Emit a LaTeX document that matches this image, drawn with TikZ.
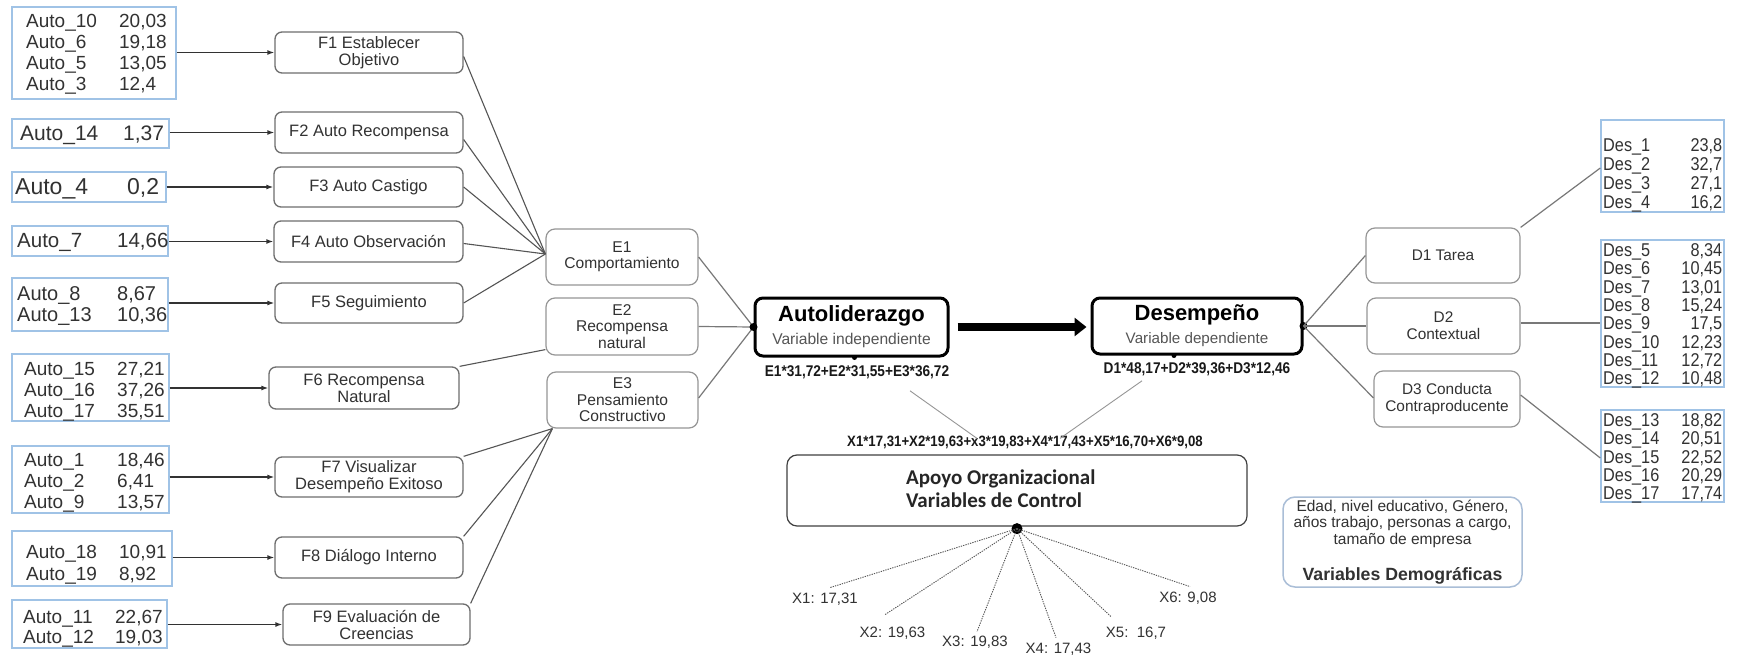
\documentclass[tikz,border=0pt]{standalone}
\usepackage{fontspec}
\setmainfont{Liberation Sans}
\newfontfamily\narrowfont[FakeStretch=0.88]{Liberation Sans}
\newfontfamily\calfont{Carlito}
\usetikzlibrary{arrows.meta}

\definecolor{bluec}{RGB}{160,195,230}
\definecolor{fgray}{RGB}{110,110,110}
\definecolor{egray}{RGB}{150,150,150}
\definecolor{ftext}{RGB}{50,50,50}
\definecolor{vtext}{RGB}{85,85,85}
\definecolor{demob}{RGB}{170,190,215}
\definecolor{arrgray}{RGB}{50,50,50}
\definecolor{linegray}{RGB}{85,85,85}
\definecolor{softgray}{RGB}{120,120,120}
\definecolor{faintgray}{RGB}{150,150,150}

\newcommand{\fs}[2]{\fontsize{#1}{#2}\selectfont}
% one row of an indicator table: name in a fixed-width column, then the value
\newcommand{\arow}[3]{\makebox[#1][l]{#2}#3}
% one row of a performance table: name left, value flush right
\newcommand{\drow}[2]{\makebox[119pt]{#1\hfill#2}}

\begin{document}
\begin{tikzpicture}[x=1pt,y=-1pt,
  bluebox/.style={draw=bluec, line width=1.4pt, rectangle, inner sep=0pt},
  tabtext/.style={anchor=west, align=left, inner sep=0pt, text=ftext},
  fbox/.style={draw=fgray, line width=1.3pt, rounded corners=7pt, align=center,
    inner sep=0pt, text=ftext, font=\fs{16.5}{17}},
  ebox/.style={draw=egray, line width=1.2pt, rounded corners=9pt, align=center,
    inner sep=0pt, text=ftext, font=\fs{15.6}{16.5}},
  dbox/.style={draw=egray, line width=1.2pt, rounded corners=9pt, align=center,
    inner sep=0pt, text=ftext, font=\fs{15.4}{17}},
  mainbox/.style={draw=black, line width=3pt, rounded corners=8pt, align=center,
    inner sep=0pt, font=\fs{16}{23}},
  formula/.style={inner sep=0pt, text=black!90, font=\narrowfont\bfseries\fs{15.5}{16}},
  xlabel/.style={inner sep=0pt, text=ftext, font=\fs{15}{15}},
  apoyobox/.style={draw=black!75, line width=1.2pt, rounded corners=10pt, inner sep=0pt},
  demobox/.style={draw=demob, line width=1.5pt, rounded corners=12pt, align=center,
    inner sep=0pt, text=ftext, font=\fs{15.5}{16.5}},
  feed/.style={draw=arrgray, line width=1.3pt, -{Latex[length=7pt,width=5pt]}},
  fline/.style={draw=linegray, line width=1.1pt},
  eline/.style={draw=softgray, line width=1.2pt},
  link/.style={draw=faintgray, line width=0.9pt},
  dotline/.style={draw=linegray, line width=0.9pt, dash pattern=on 1.3pt off 1.1pt},
]
\fill[white] (0,0) rectangle (1737,658);
\useasboundingbox (0,0) rectangle (1737,658);

% ---------- self-leadership indicators ----------
\node[bluebox, minimum width=164pt, minimum height=92pt] (a1) at (94,53) {};
\node[tabtext, font=\fs{19}{21}] (a1t) at (26,54.5)
  {\arow{93pt}{Auto\_10}{20,03}\\\arow{93pt}{Auto\_6}{19,18}\\
   \arow{93pt}{Auto\_5}{13,05}\\\arow{93pt}{Auto\_3}{12,4}};
\node[bluebox, minimum width=157pt, minimum height=29pt] (a2) at (90.5,133.5) {};
\node[tabtext, font=\fs{21}{23}] (a2t) at (20,135) {\arow{103pt}{Auto\_14}{1,37}};
\node[bluebox, minimum width=154pt, minimum height=30pt] (a3) at (89,187) {};
\node[tabtext, font=\fs{23}{25}] (a3t) at (15,188.5) {\arow{112pt}{Auto\_4}{0,2}};
\node[bluebox, minimum width=156pt, minimum height=30pt] (a4) at (90,241) {};
\node[tabtext, font=\fs{20.5}{22}] (a4t) at (17,242.5) {\arow{100pt}{Auto\_7}{14,66}};
\node[bluebox, minimum width=156pt, minimum height=53pt] (a5) at (90,304.5) {};
\node[tabtext, font=\fs{20}{21}] (a5t) at (17,306)
  {\arow{100pt}{Auto\_8}{8,67}\\\arow{100pt}{Auto\_13}{10,36}};
\node[bluebox, minimum width=157pt, minimum height=67pt] (a6) at (90.5,387.5) {};
\node[tabtext, font=\fs{19}{21}] (a6t) at (24,391.5)
  {\arow{93pt}{Auto\_15}{27,21}\\\arow{93pt}{Auto\_16}{37,26}\\\arow{93pt}{Auto\_17}{35,51}};
\node[bluebox, minimum width=157pt, minimum height=67pt] (a7) at (90.5,479.5) {};
\node[tabtext, font=\fs{19}{21}] (a7t) at (24,483)
  {\arow{93pt}{Auto\_1}{18,46}\\\arow{93pt}{Auto\_2}{6,41}\\\arow{93pt}{Auto\_9}{13,57}};
\node[bluebox, minimum width=160pt, minimum height=55pt] (a8) at (92,558.5) {};
\node[tabtext, font=\fs{19}{22}] (a8t) at (26,565)
  {\arow{93pt}{Auto\_18}{10,91}\\\arow{93pt}{Auto\_19}{8,92}};
\node[bluebox, minimum width=155pt, minimum height=48pt] (a9) at (89.5,624) {};
\node[tabtext, font=\fs{19}{20}] (a9t) at (23,628.5)
  {\arow{92pt}{Auto\_11}{22,67}\\\arow{92pt}{Auto\_12}{19,03}};

% ---------- factors ----------
\node[fbox, minimum width=188pt, minimum height=41pt] (f1) at (369,52.5) {F1 Establecer\\Objetivo};
\node[fbox, minimum width=188pt, minimum height=41pt] (f2) at (369,132.5) {F2 Auto Recompensa};
\node[fbox, minimum width=189pt, minimum height=40pt] (f3) at (368.5,187) {F3 Auto Castigo};
\node[fbox, minimum width=189pt, minimum height=41pt] (f4) at (368.5,241.5) {F4 Auto Observación};
\node[fbox, minimum width=188pt, minimum height=40pt] (f5) at (369,303) {F5 Seguimiento};
\node[fbox, minimum width=190pt, minimum height=42pt] (f6) at (364,388) {F6 Recompensa\\Natural};
\node[fbox, minimum width=188pt, minimum height=40pt] (f7) at (369,477) {F7 Visualizar\\Desempeño Exitoso};
\node[fbox, minimum width=188pt, minimum height=41pt] (f8) at (369,557.5) {F8 Diálogo Interno};
\node[fbox, minimum width=187pt, minimum height=41pt] (f9) at (376.5,624.5) {F9 Evaluación de\\Creencias};

\foreach \i in {1,...,9}
  \draw[feed] (a\i.east |- f\i.west) -- (f\i.west);

% ---------- strategies ----------
\node[ebox, minimum width=152pt, minimum height=56pt] (e1) at (622,257) {E1\\Comportamiento};
\node[ebox, minimum width=152pt, minimum height=57pt] (e2) at (622,326.5) {E2\\Recompensa\\natural};
\node[ebox, minimum width=151pt, minimum height=56pt] (e3) at (622.5,400) {E3\\Pensamiento\\Constructivo};

\draw[fline] ([yshift=-4pt]f1.east) -- ([yshift=3pt]e1.west);
\draw[fline] ([yshift=-7pt]f2.east) -- ([yshift=3pt]e1.west);
\draw[fline] (f3.east) -- ([yshift=3pt]e1.west);
\draw[fline] ([yshift=-2pt]f4.east) -- ([yshift=3pt]e1.west);
\draw[fline] (f5.east) -- ([yshift=3pt]e1.west);
\draw[fline] (f6.north east) -- ([yshift=6pt]e2.south west);
\draw[fline] (f7.north east) -- ([xshift=6pt]e3.south west);
\draw[fline] (f8.north east) -- ([xshift=6pt]e3.south west);
\draw[fline] (f9.north east) -- ([xshift=6pt]e3.south west);

% ---------- main constructs ----------
\node[mainbox, minimum width=193pt, minimum height=58pt] (auto) at (851.5,327)
  {{\fs{22}{23}\bfseries Autoliderazgo}\\{\fs{15.6}{16}\color{vtext}Variable independiente}};
\node[mainbox, minimum width=210pt, minimum height=56pt] (desemp) at (1197,326)
  {{\fs{22}{23}\bfseries Desempeño}\\{\fs{15.2}{16}\color{vtext}Variable dependiente}};

\draw[eline] (e1.east) -- (auto.west);
\draw[eline] (e2.east) -- (auto.west);
\draw[eline] ([yshift=2pt]e3.east) -- (auto.west);

\fill (auto.west) circle (4pt);
\fill ([xshift=3pt]auto.south) circle (2.5pt);
\fill (desemp.east) circle (4pt);
\fill ([xshift=-23pt]desemp.south) circle (2.5pt);

\draw[line width=7.5pt, -{Triangle[length=12pt,width=18pt]}]
  ([xshift=8pt]auto.east) -- ([xshift=-4pt]auto.east -| desemp.west);

\node[formula] (efor) at (857,372) {E1*31,72+E2*31,55+E3*36,72};
\node[formula] (dfor) at (1197,369) {D1*48,17+D2*39,36+D3*12,46};
\node[formula, font=\narrowfont\bfseries\fs{15}{16}] (xfor) at (1025,442)
  {X1*17,31+X2*19,63+x3*19,83+X4*17,43+X5*16,70+X6*9,08};

\draw[link] ([xshift=53pt,yshift=-12pt]efor.south) -- ([xshift=-48pt,yshift=-3pt]xfor.north);
\draw[link] ([xshift=-55pt,yshift=-5pt]dfor.south) -- ([xshift=35pt,yshift=-3pt]xfor.north);

% ---------- control variables ----------
\node[apoyobox, minimum width=460pt, minimum height=71pt] (apoyo) at (1017,490.5) {};
\node[anchor=west, align=left, inner sep=0pt, text=black!85, font=\calfont\bfseries\fs{21}{23}]
  (apoyot) at (906,489) {Apoyo Organizacional\\Variables de Control};
\fill ([yshift=-2pt]apoyo.south) circle (5.5pt);

\node[xlabel] (x1) at (825,599) {X1: 17,31};
\node[xlabel] (x2) at (892.5,633) {X2: 19,63};
\node[xlabel] (x3) at (975,642) {X3: 19,83};
\node[xlabel] (x4) at (1058.5,649) {X4: 17,43};
\node[xlabel] (x5) at (1136,633) {X5:\ \ 16,7};
\node[xlabel] (x6) at (1188,598) {X6: 9,08};

\draw[dotline] ([yshift=-2pt]apoyo.south) -- ([xshift=5pt,yshift=5pt]x1.north);
\draw[dotline] ([yshift=-2pt]apoyo.south) -- ([xshift=-7.5pt,yshift=12pt]x2.north);
\draw[dotline] ([yshift=-2pt]apoyo.south) -- ([xshift=2pt,yshift=4pt]x3.north);
\draw[dotline] ([yshift=-2pt]apoyo.south) -- ([xshift=-2.5pt,yshift=5pt]x4.north);
\draw[dotline] ([yshift=-2pt]apoyo.south) -- ([xshift=-25pt,yshift=10pt]x5.north);
\draw[dotline] ([yshift=-2pt]apoyo.south) -- ([xshift=2pt,yshift=5pt]x6.north);

% ---------- performance dimensions ----------
\node[dbox, minimum width=154pt, minimum height=55pt] (d1) at (1443,255.5) {D1 Tarea};
\node[dbox, minimum width=153pt, minimum height=56pt] (d2) at (1443.5,326) {D2\\Contextual};
\node[dbox, minimum width=146pt, minimum height=56pt] (d3) at (1447,399) {D3 Conducta\\Contraproducente};

\draw[eline] (desemp.east) -- (d1.west);
\draw[eline] (desemp.east) -- (d2.west);
\draw[eline] (desemp.east) -- ([yshift=1pt]d3.west);

\node[bluebox, minimum width=123pt, minimum height=92pt] (ds1) at (1662.5,166) {};
\node[tabtext, font=\narrowfont\fs{18.5}{19}] (ds1t) at (1603,175.5)
  {\drow{Des\_1}{23,8}\\\drow{Des\_2}{32,7}\\\drow{Des\_3}{27,1}\\\drow{Des\_4}{16,2}};
\node[bluebox, minimum width=123pt, minimum height=147pt] (ds2) at (1662.5,313.5) {};
\node[tabtext, font=\narrowfont\fs{18.5}{18.3}] (ds2t) at (1603,316)
  {\drow{Des\_5}{8,34}\\\drow{Des\_6}{10,45}\\\drow{Des\_7}{13,01}\\\drow{Des\_8}{15,24}\\
   \drow{Des\_9}{17,5}\\\drow{Des\_10}{12,23}\\\drow{Des\_11}{12,72}\\\drow{Des\_12}{10,48}};
\node[bluebox, minimum width=123pt, minimum height=92pt] (ds3) at (1662.5,456) {};
\node[tabtext, font=\narrowfont\fs{18.5}{18.25}] (ds3t) at (1603,458.5)
  {\drow{Des\_13}{18,82}\\\drow{Des\_14}{20,51}\\\drow{Des\_15}{22,52}\\\drow{Des\_16}{20,29}\\
   \drow{Des\_17}{17,74}};

\draw[eline] (d1.north east) -- ([yshift=-2pt]ds1.west);
\draw[eline] ([yshift=3pt]d2.east) -- ([yshift=-9.5pt]ds2.west);
\draw[eline] ([yshift=4pt]d3.east) -- ([yshift=-2pt]ds3.west);

% ---------- demographic variables ----------
\node[demobox, minimum width=239pt, minimum height=90pt] (demo) at (1402.5,542)
  {Edad, nivel educativo, Género,\\años trabajo, personas a cargo,\\tamaño de empresa\\[20pt]
   {\bfseries\fs{17.7}{16.5}Variables Demográficas}};

\end{tikzpicture}
\end{document}
